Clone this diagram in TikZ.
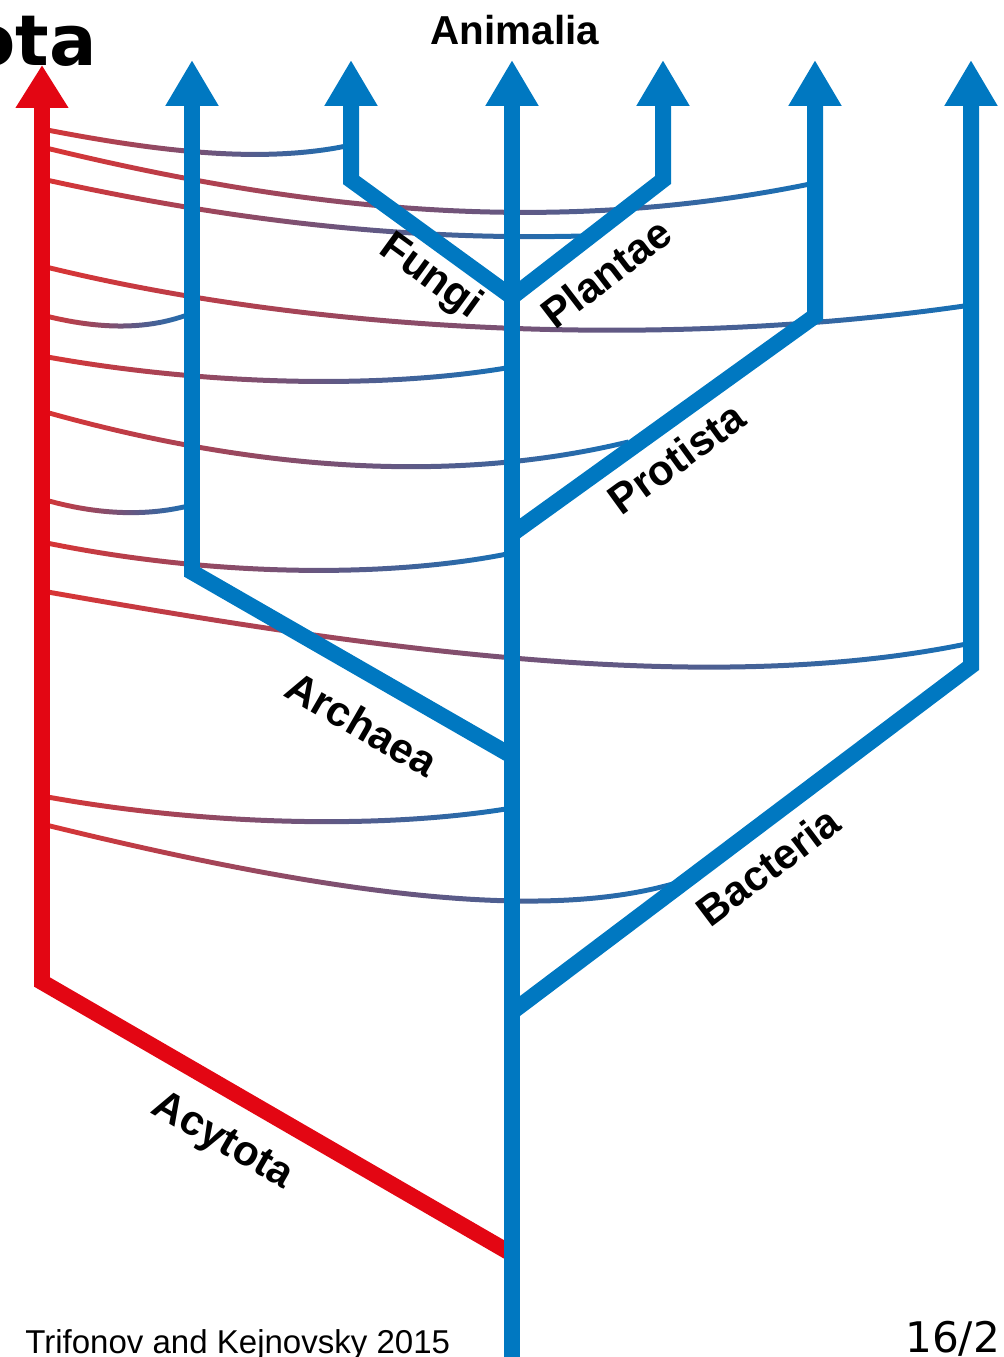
\documentclass[tikz,border=0pt]{standalone}
\usepackage{fontspec}
\setmainfont{Liberation Sans}
\newfontfamily\slidefont{DejaVu Sans}
\usetikzlibrary{arrows.meta}

\definecolor{treeblue}{RGB}{0,120,193}
\definecolor{treered}{RGB}{227,6,19}
\definecolor{hgtred}{RGB}{218,52,52}
\definecolor{hgtblue}{RGB}{22,112,182}

\begin{document}
\begin{tikzpicture}[
    x=0.02cm, y=-0.02cm,
    branch/.style={line width=0.32cm, treeblue, -{Triangle[length=0.92cm,width=1.0cm]}},
    acy/.style={line width=0.32cm, treered, -{Triangle[length=0.86cm,width=1.0cm]}},
    hgt/.style={left color=hgtred, right color=hgtblue, draw=none},
    lbl/.style={font=\bfseries\fontsize{24}{28}\selectfont, inner sep=0pt},
]
\useasboundingbox (0,0) rectangle (1004,1357);

% ---------- branch points ----------
\coordinate (root) at (512,1365);
\coordinate (aniT) at (512,60);
\coordinate (acyJ) at (512,1254);
\coordinate (acyK) at (42,982);
\coordinate (acyT) at (42,65);
\coordinate (bacJ) at (512,1012);
\coordinate (bacK) at (971,666);
\coordinate (bacT) at (971,60);
\coordinate (arcJ) at (512,756);
\coordinate (arcK) at (192,572);
\coordinate (arcT) at (192,60);
\coordinate (proJ) at (512,534);
\coordinate (proK) at (815,316);
\coordinate (proT) at (815,60);
\coordinate (fpJ)  at (512,297);
\coordinate (funK) at (351,180);
\coordinate (funT) at (351,60);
\coordinate (plaK) at (663,180);
\coordinate (plaT) at (663,60);

% ---------- gene transfer curves (behind the tree) ----------
\foreach \xa/\ya/\xb/\yb/\xc/\yc/\xd/\yd in {
    42/129/150/150/260/165/351/145,
    42/147/300/210/550/238/815/183,
    42/179/250/225/420/240/582/236,
    42/266/300/330/650/352/971/305,
    42/315/100/330/150/330/192/313,
    42/356/200/385/380/390/512/367,
    42/411/250/470/450/485/628/442,
    42/499/100/516/150/516/192/505,
    42/542/200/575/380/580/512/553,
    42/591/350/645/700/700/971/643,
    42/796/200/825/380/830/512/808,
    42/824/350/900/550/920/676/883}
  \shade[hgt] (\xa,{\ya-2.5}) .. controls (\xb,{\yb-2.5}) and (\xc,{\yc-2.5}) .. (\xd,{\yd-2.5})
    -- (\xd,{\yd+2.5}) .. controls (\xc,{\yc+2.5}) and (\xb,{\yb+2.5}) .. (\xa,{\ya+2.5}) -- cycle;

% ---------- Acytota ----------
\draw[acy] (acyJ) -- (acyK) -- (acyT);

% ---------- Cytota ----------
\draw[branch] (root) -- (aniT);
\draw[branch] (bacJ) -- (bacK) -- (bacT);
\draw[branch] (arcJ) -- (arcK) -- (arcT);
\draw[branch] (proJ) -- (proK) -- (proT);
\draw[branch] (fpJ) -- (funK) -- (funT);
\draw[branch] (fpJ) -- (plaK) -- (plaT);

% ---------- labels ----------
\node[lbl, font=\bfseries\fontsize{23}{27}\selectfont] (animalia) at (515,30) {Animalia};
\node[lbl, rotate=-36]  (fungi)    at (430,277)  {Fungi};
\node[lbl, rotate=37.5] (plantae)  at (606,273)  {Plantae};
\node[lbl, rotate=36]   (protista) at (676,458)  {Protista};
\node[lbl, rotate=-30]  (archaea)  at (362,724)  {Archaea};
\node[lbl, rotate=37]   (bacteria) at (768,866)  {Bacteria};
\node[lbl, rotate=-30]  (acytota)  at (222,1142) {Acytota};

% ---------- slide leftovers ----------
\node[inner sep=0pt, anchor=base east, font=\slidefont\bfseries\fontsize{40}{44}\selectfont] (title) at (97,65) {ota};
\node[inner sep=0pt, anchor=base west, font=\fontsize{18.8}{22}\selectfont] (cite) at (25,1353) {Trifonov and Kejnovsky 2015};
\node[inner sep=0pt, anchor=base west, font=\slidefont\fontsize{24}{28}\selectfont] (page) at (905,1352) {16/2};

\end{tikzpicture}
\end{document}
